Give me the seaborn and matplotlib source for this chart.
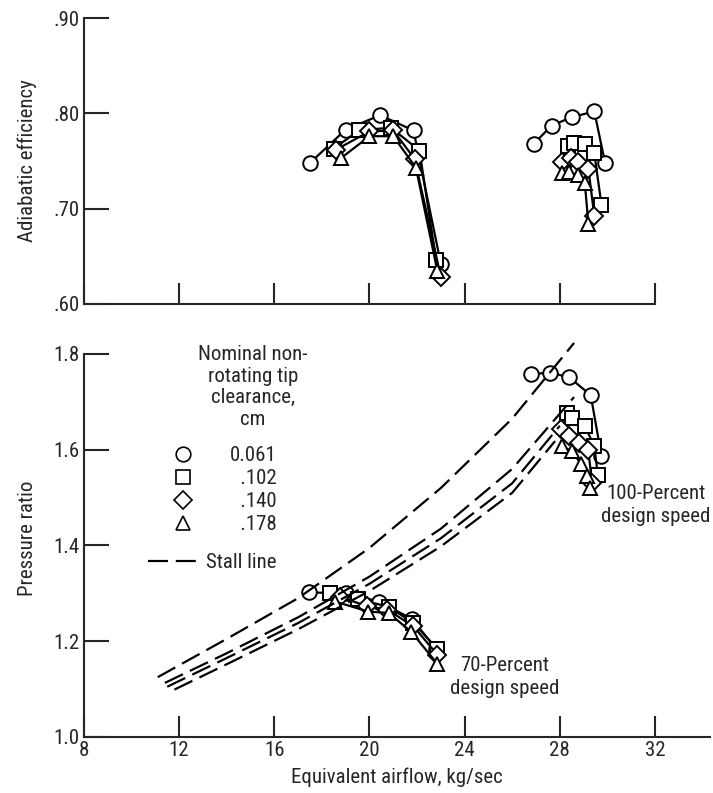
import matplotlib
matplotlib.use("Agg")
import matplotlib.pyplot as plt
from matplotlib import font_manager as fm
from matplotlib.lines import Line2D
import seaborn as sns

# legend entries (nominal non-rotating tip clearance, cm)
clearance_labels = ["0.061", "\u2007.102", "\u2007.140", "\u2007.178"]
marker_styles = ["o", "s", "D", "^"]
marker_sizes = [10.5, 10.5, 9, 10.5]

# adiabatic efficiency, 70-percent speed (one row per clearance)
eff70_flow = [[17.5, 19.0, 20.45, 21.85, 23.0],
              [18.5, 19.55, 20.9, 22.1, 22.8],
              [18.6, 20.0, 21.0, 21.9, 23.0],
              [18.8, 20.0, 21.0, 21.95, 22.85]]
eff70_val = [[.748, .783, .798, .782, .642],
             [.763, .782, .785, .761, .646],
             [.762, .781, .782, .752, .628],
             [.753, .776, .776, .743, .635]]

# adiabatic efficiency, 100-percent speed
eff100_flow = [[26.9, 27.65, 28.5, 29.45, 29.9],
               [28.35, 28.6, 29.05, 29.45, 29.75],
               [28.1, 28.45, 28.75, 29.2, 29.45],
               [28.1, 28.4, 28.75, 29.05, 29.2]]
eff100_val = [[.768, .787, .796, .802, .748],
              [.766, .769, .768, .758, .704],
              [.749, .753, .749, .742, .692],
              [.737, .738, .735, .727, .684]]

# pressure ratio, 70-percent speed
pr70_flow = [[17.45, 19.0, 20.4, 21.8, 22.8],
             [18.35, 19.5, 20.8, 21.85, 22.85],
             [18.75, 19.9, 20.75, 21.85, 22.85],
             [18.55, 19.95, 20.8, 21.75, 22.85]]
pr70_val = [[1.302, 1.300, 1.283, 1.246, 1.184],
            [1.300, 1.288, 1.272, 1.238, 1.184],
            [1.293, 1.273, 1.266, 1.231, 1.172],
            [1.283, 1.262, 1.259, 1.220, 1.153]]

# pressure ratio, 100-percent speed
pr100_flow = [[26.8, 27.6, 28.4, 29.3, 29.75],
              [28.3, 28.5, 29.05, 29.45, 29.6],
              [28.05, 28.4, 28.8, 29.2, 29.35],
              [28.1, 28.5, 28.9, 29.15, 29.25]]
pr100_val = [[1.758, 1.761, 1.751, 1.714, 1.587],
             [1.677, 1.666, 1.650, 1.607, 1.547],
             [1.643, 1.628, 1.615, 1.600, 1.530],
             [1.607, 1.597, 1.570, 1.545, 1.520]]

# stall lines
stall_flow = [[11.1, 14, 17, 20, 23, 26, 28.6],
              [11.4, 14, 17, 20, 23, 26, 28.6],
              [11.5, 14, 17, 20, 23, 26, 28.0],
              [11.8, 14, 17, 20, 23, 26, 27.8]]
stall_pr = [[1.125, 1.205, 1.29, 1.395, 1.52, 1.665, 1.823],
            [1.113, 1.175, 1.25, 1.335, 1.435, 1.56, 1.71],
            [1.105, 1.165, 1.238, 1.32, 1.415, 1.53, 1.65],
            [1.099, 1.152, 1.225, 1.305, 1.398, 1.51, 1.618]]

x_ticks = [8, 12, 16, 20, 24, 28, 32]
eff_ticks = [0.60, 0.70, 0.80, 0.90]
eff_ticklabels = [".60", ".70", ".80", ".90"]
pr_ticks = [1.0, 1.2, 1.4, 1.6, 1.8]
pr_ticklabels = ["1.0", "1.2", "1.4", "1.6", "1.8"]


def pick_font():
    # the scan uses a narrow typeface; take a condensed one if installed
    prefs = ["Liberation Sans Narrow", "Roboto Condensed", "DejaVu Sans",
             "Noto Sans", "Open Sans", "Lato", "Inter", "Roboto"]
    for name in prefs:
        for f in fm.fontManager.ttflist:
            if (f.name == name and f.style == "normal"
                    and f.weight in (400, "normal", "regular")
                    and f.stretch in ("condensed", "semi-condensed",
                                      "extra-condensed")):
                return f.name, f.stretch, 15
    return "DejaVu Sans", "normal", 13


sns.set_style("ticks")
family, stretch, FS = pick_font()
plt.rcParams["font.family"] = [family, "DejaVu Sans"]
plt.rcParams["font.stretch"] = stretch
plt.rcParams["axes.linewidth"] = 1.5
fs_px = FS * 100 / 72

W, H = 713, 793
fig = plt.figure(figsize=(W / 100, H / 100), dpi=100)
ax1 = fig.add_axes([84 / W, 1 - 304 / H, (655 - 84) / W, (304 - 18) / H])
ax2 = fig.add_axes([84 / W, 56 / H, (710 - 84) / W, (737 - 339.6) / H])


def draw_group(ax, flows, vals):
    for fl, vl, mk, ms in zip(flows, vals, marker_styles, marker_sizes):
        sns.lineplot(x=fl, y=vl, ax=ax, color="black", lw=1.6, sort=False,
                     estimator=None, marker=mk, markersize=ms,
                     markerfacecolor="white", markeredgecolor="black",
                     markeredgewidth=1.4)


draw_group(ax1, eff70_flow, eff70_val)
draw_group(ax1, eff100_flow, eff100_val)
draw_group(ax2, pr70_flow, pr70_val)
draw_group(ax2, pr100_flow, pr100_val)

for fl, pr in zip(stall_flow, stall_pr):
    sns.lineplot(x=fl, y=pr, ax=ax2, color="black", lw=1.6, sort=False,
                 estimator=None, linestyle=(0, (9, 3.5)))

# top panel axes
ax1.set_xlim(8, 32)
ax1.set_ylim(0.60, 0.90)
ax1.set_xticks(x_ticks)
ax1.set_xticklabels([])
ax1.set_yticks(eff_ticks)
ax1.set_yticklabels(eff_ticklabels)
ax1.set_ylabel("Adiabatic efficiency", fontsize=FS, labelpad=12)
ax1.set_xlabel("")

# bottom panel axes
ax2.set_xlim(8, 8 + (710 - 84) / 23.79)
ax2.set_ylim(1.0, 1.83)
ax2.spines["left"].set_bounds(1.0, 1.8)
ax2.set_xticks(x_ticks)
ax2.set_xticklabels([str(t) for t in x_ticks])
ax2.set_yticks(pr_ticks)
ax2.set_yticklabels(pr_ticklabels)
ax2.set_ylabel("Pressure ratio", fontsize=FS, labelpad=12)
ax2.set_xlabel("Equivalent airflow, kg/sec", fontsize=FS, labelpad=5)

for ax in (ax1, ax2):
    sns.despine(ax=ax)
    ax.tick_params(axis="y", direction="in", length=18, width=1.5,
                   labelsize=FS, pad=3)
    ax.tick_params(axis="x", direction="in", length=15, width=1.5,
                   labelsize=FS, pad=3)

# speed line annotations
ls_25 = 25 / (fs_px * 0.955)
ax2.text(32.05, 1.484, "100-Percent\ndesign speed", ha="center", va="center",
         fontsize=FS, linespacing=ls_25)
ax2.text(25.70, 1.125, "70-Percent\ndesign speed", ha="center", va="center",
         fontsize=FS, linespacing=ls_25)

# legend title
fig.text(253 / W, 1 - 387 / H, "Nominal non-\nrotating tip\nclearance,\ncm",
         ha="center", va="center", fontsize=FS,
         linespacing=23 / (fs_px * 0.955))

# legend: clearance markers
handles = [Line2D([], [], ls="none", marker=mk, ms=ms, mfc="white",
                  mec="black", mew=1.2)
           for mk, ms in zip(marker_styles, marker_sizes)]
leg1 = ax2.legend(handles, clearance_labels, loc="upper left",
                  bbox_to_anchor=(172 / W, 1 - 446 / H),
                  bbox_transform=fig.transFigure, frameon=False,
                  fontsize=FS, handlelength=22 / fs_px,
                  handletextpad=36 / fs_px, labelspacing=4 / fs_px,
                  borderpad=0, borderaxespad=0)
ax2.add_artist(leg1)

stall_handle = Line2D([], [], color="black", lw=1.6, ls=(0, (9, 3.5)))
ax2.legend([stall_handle], ["Stall line"], loc="upper left",
           bbox_to_anchor=(148 / W, 1 - 553 / H),
           bbox_transform=fig.transFigure, frameon=False, fontsize=FS,
           handlelength=52 / fs_px, handletextpad=6 / fs_px, borderpad=0,
           borderaxespad=0)

fig.savefig("out.png", dpi=100)
